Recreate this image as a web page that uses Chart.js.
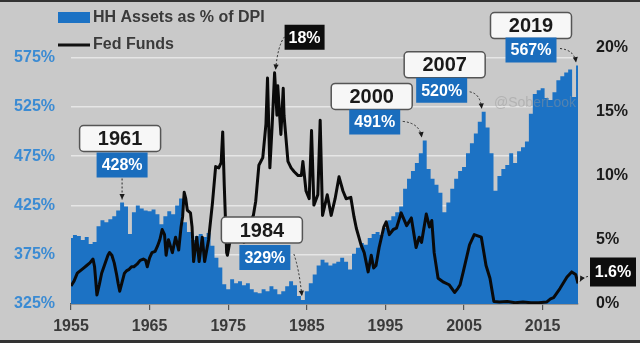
<!DOCTYPE html>
<html>
<head>
<meta charset="utf-8">
<script src="https://cdn.jsdelivr.net/npm/chart.js@4.4.1/dist/chart.umd.min.js"></script>
<style>
  html, body { margin: 0; padding: 0; background: #c9c9c9; }
  canvas { display: block; }
</style>
</head>
<body>
<canvas id="chart" width="640" height="343"></canvas>
<script>
// Household assets as % of disposable personal income, half-yearly from 1955
const hhStart = 1955;
const hhAssets = [
  392, 395, 394, 390, 393, 386, 388, 404, 410, 408,   // 1955-59
  411, 414, 420, 428, 424, 396, 418, 425, 422, 420,   // 1960-64
  419, 421, 416, 406, 414, 419, 416, 425, 432, 408,   // 1965-69
  398, 390, 394, 396, 393, 397, 384, 372, 362, 345,   // 1970-74
  340, 350, 346, 348, 344, 346, 340, 337, 336, 340,   // 1975-79
  338, 343, 340, 335, 338, 343, 348, 344, 333, 329,   // 1980-84
  338, 346, 355, 364, 370, 367, 364, 366, 368, 372,   // 1985-89
  368, 360, 376, 382, 387, 385, 392, 396, 398, 395,   // 1990-94
  402, 410, 414, 418, 424, 442, 452, 460, 468, 478,   // 1995-99
  491, 462, 452, 446, 438, 418, 428, 442, 452, 460,   // 2000-04
  464, 478, 488, 498, 510, 520, 504, 478, 440, 455,   // 2005-09
  462, 466, 478, 468, 480, 484, 490, 518, 538, 542,   // 2010-14
  544, 534, 532, 540, 552, 556, 560, 563, 535, 567    // 2015-19
];
const hhYears = hhAssets.map((_, i) => hhStart + i / 2);

// Effective fed funds rate (%)
const ffYears = [
  1955.0, 1955.4, 1955.8, 1956.2, 1956.6, 1957.0, 1957.4, 1957.8, 1958.0, 1958.3,
  1958.6, 1958.9, 1959.3, 1959.7, 1959.9, 1960.2, 1960.5, 1960.8, 1961.0, 1961.2,
  1961.5, 1961.8, 1962.1, 1962.4, 1962.7, 1963.0, 1963.4, 1963.8, 1964.2, 1964.5,
  1964.7, 1965.0, 1965.3, 1965.7, 1966.0, 1966.3, 1966.6, 1966.9, 1967.1, 1967.4,
  1967.9, 1968.3, 1968.7, 1969.0, 1969.2, 1969.4, 1969.6, 1969.8, 1970.2, 1970.4,
  1970.6, 1971.0, 1971.3, 1971.7, 1972.0, 1972.5, 1973.0, 1973.4, 1973.8, 1974.1,
  1974.3, 1974.5, 1974.8, 1974.9, 1975.2, 1975.6, 1976.0, 1976.5, 1977.0, 1977.4,
  1977.8, 1978.2, 1978.5, 1978.9, 1979.4, 1979.8, 1980.0, 1980.3, 1980.6, 1980.9,
  1981.2, 1981.3, 1981.7, 1982.0, 1982.1, 1982.6, 1983.0, 1983.4, 1983.9, 1984.3,
  1984.5, 1984.9, 1985.3, 1985.6, 1985.9, 1986.4, 1986.7, 1987.0, 1987.6, 1988.1,
  1988.6, 1989.1, 1989.6, 1990.0, 1990.6, 1991.0, 1991.3, 1991.9, 1992.3, 1992.8,
  1993.2, 1993.5, 1993.8, 1994.2, 1994.8, 1995.1, 1995.5, 1996.0, 1996.4, 1997.0,
  1997.7, 1998.3, 1998.9, 1999.3, 1999.6, 2000.2, 2000.6, 2000.9, 2001.2, 2001.7,
  2002.4, 2003.1, 2003.8, 2004.2, 2004.5, 2004.9, 2005.7, 2006.3, 2007.2, 2007.8,
  2008.3, 2008.8, 2009.5, 2010.5, 2011.5, 2012.5, 2013.5, 2014.5, 2015.5, 2016.0,
  2016.4, 2017.2, 2018.1, 2018.7, 2019.2, 2019.5
];
const ffRates = [
  1.4, 1.8, 2.4, 2.6, 2.8, 3.0, 3.2, 3.5, 2.9, 0.7,
  1.5, 2.4, 3.1, 3.8, 4.0, 3.8, 3.2, 2.3, 1.6, 1.0,
  1.7, 2.4, 2.6, 2.7, 2.9, 2.9, 3.1, 3.4, 3.5, 3.4,
  2.9, 3.6, 4.0, 4.1, 4.5, 5.0, 5.8, 5.4, 3.8, 5.0,
  4.0, 5.2, 4.2, 6.0, 6.8, 8.7, 8.2, 7.3, 7.1, 6.0,
  3.3, 5.2, 3.3, 5.2, 3.3, 5.0, 7.9, 10.7, 10.6, 11.0,
  13.4, 9.2, 4.0, 3.8, 4.8, 5.4, 5.0, 5.2, 4.8, 5.6,
  6.4, 6.9, 8.0, 10.8, 11.4, 14.0, 17.6, 10.6, 14.0, 18,
  14.7, 17.0, 13.2, 16.8, 14.7, 11.1, 10.6, 10.3, 10.0, 10.0,
  11.1, 8.8, 8.2, 13.5, 7.7, 8.5, 14.3, 6.9, 8.5, 6.9,
  8.2, 9.9, 8.8, 8.2, 8.3, 6.8, 5.9, 4.6, 4.0, 2.5,
  3.8, 2.8, 3.0, 4.4, 6.0, 6.4, 5.4, 5.8, 5.9, 7.1,
  6.1, 6.7, 4.4, 5.2, 4.8, 7.0, 6.0, 6.5, 4.0, 2.0,
  1.7, 1.5, 0.9, 1.2, 1.5, 2.5, 4.6, 5.4, 5.2, 3.0,
  2.0, 0.2, 0.15, 0.2, 0.1, 0.15, 0.1, 0.1, 0.15, 0.4,
  0.5, 1.2, 2.1, 2.5, 2.3, 1.6
];

const xTicks = [1955, 1965, 1975, 1985, 1995, 2005, 2015];
const leftTicks = [325, 375, 425, 475, 525, 575];
const rightTicks = [0, 5, 10, 15, 20];

const BLUE = '#1c72c4';
const BOX_BLUE = '#1a6dbd';
const FONT = "'Liberation Sans', Arial, sans-serif";

// callouts: year tag + value tag pointing at a data point
const callouts = [
  { series: 'hh', at: 1961.5, year: '1961', tag: [-2, -77], val: [0, -50], from: [0, -24], to: [0, -3], bend: 0 },
  { series: 'hh', at: 1984.5, year: '1984', tag: [-41, -83], val: [-38, -55], from: [-9, -46], to: [-1, -4], bend: 0.3 },
  { series: 'hh', at: 2000.0, year: '2000', tag: [-53, -57], val: [-50, -31], from: [-22, -19], to: [-3, -3], bend: 0.8 },
  { series: 'hh', at: 2007.5, year: '2007', tag: [-39, -60], val: [-42, -34], from: [-14, -20], to: [-2, -3], bend: 0.8 },
  { series: 'hh', at: 2019.5, year: '2019', tag: [-47, -53], val: [-47, -28], from: [-18, -17], to: [-2, -3], bend: 0.8 }
];
// black value tags on the fed funds line
const rateTags = [
  { at: 1980.9, box: [10, -48, 40, 25], from: [10, -36], to: [1, -3] },
  { at: 2019.5, box: [12, -26, 46, 29], from: [10, -7], to: [2, -2] }
];

function arrow(ctx, x1, y1, x2, y2, bend) {
  const cx = x1 + (x2 - x1) * (0.5 + bend / 2);
  const cy = y1 + (y2 - y1) * (0.5 - bend / 2);
  ctx.save();
  ctx.strokeStyle = '#2a2a2a';
  ctx.lineWidth = 1;
  ctx.setLineDash([2, 2]);
  ctx.beginPath();
  ctx.moveTo(x1, y1);
  ctx.quadraticCurveTo(cx, cy, x2, y2);
  ctx.stroke();
  ctx.setLineDash([]);
  const a = Math.atan2(y2 - cy, x2 - cx);
  const s = 6;
  ctx.fillStyle = '#1a1a1a';
  ctx.beginPath();
  ctx.moveTo(x2, y2);
  ctx.lineTo(x2 - s * Math.cos(a - 0.45), y2 - s * Math.sin(a - 0.45));
  ctx.lineTo(x2 - s * Math.cos(a + 0.45), y2 - s * Math.sin(a + 0.45));
  ctx.closePath();
  ctx.fill();
  ctx.restore();
}

function tagBox(ctx, x, y, w, h, fill, stroke, text, color, size) {
  ctx.save();
  ctx.beginPath();
  if (stroke) ctx.roundRect(x, y, w, h, 4); else ctx.rect(x, y, w, h);
  ctx.fillStyle = fill;
  ctx.fill();
  if (stroke) {
    ctx.strokeStyle = stroke;
    ctx.lineWidth = 1.5;
    ctx.stroke();
  }
  ctx.fillStyle = color;
  ctx.font = `bold ${size}px ${FONT}`;
  ctx.textAlign = 'center';
  ctx.textBaseline = 'middle';
  ctx.fillText(text, x + w / 2, y + h / 2 + 1);
  ctx.restore();
}

const decor = {
  id: 'decor',
  beforeDraw(chart) {
    const ctx = chart.ctx;
    ctx.save();
    ctx.fillStyle = '#c9c9c9';
    ctx.fillRect(0, 0, chart.width, chart.height);
    ctx.restore();
  },
  afterDatasetsDraw(chart) {
    const ctx = chart.ctx;
    const xs = chart.scales.x, ys = chart.scales.y, yr = chart.scales.y1;

    // faint source watermark
    ctx.save();
    ctx.fillStyle = 'rgba(150,150,150,0.45)';
    ctx.font = `14px ${FONT}`;
    ctx.textAlign = 'center';
    ctx.textBaseline = 'middle';
    ctx.fillText('@SoberLook', 535, 103);
    ctx.restore();

    callouts.forEach(c => {
      const v = hhAssets[hhYears.indexOf(c.at)];
      const px = xs.getPixelForValue(c.at);
      const py = ys.getPixelForValue(v);
      arrow(ctx, px + c.from[0], py + c.from[1], px + c.to[0], py + c.to[1], c.bend);
      tagBox(ctx, px + c.tag[0] - 40.5, py + c.tag[1], 81, 26, '#f7f7f7', '#555555', c.year, '#1a1a1a', 20);
      tagBox(ctx, px + c.val[0] - 25.5, py + c.val[1], 51, 25, BOX_BLUE, null, v + '%', '#ffffff', 16);
    });

    rateTags.forEach(t => {
      const v = ffRates[ffYears.indexOf(t.at)];
      const px = xs.getPixelForValue(t.at);
      const py = yr.getPixelForValue(v);
      arrow(ctx, px + t.from[0], py + t.from[1], px + t.to[0], py + t.to[1], 0.5);
      tagBox(ctx, px + t.box[0], py + t.box[1], t.box[2], t.box[3], '#0d0d0d', null, v + '%', '#ffffff', 16);
    });
  },
  afterDraw(chart) {
    const ctx = chart.ctx;
    ctx.save();
    // legend
    ctx.fillStyle = BLUE;
    ctx.fillRect(58, 12, 32, 11);
    ctx.strokeStyle = '#111';
    ctx.lineWidth = 3;
    ctx.beginPath();
    ctx.moveTo(58, 45);
    ctx.lineTo(90, 45);
    ctx.stroke();
    ctx.fillStyle = '#3a3a3a';
    ctx.font = `bold 16px ${FONT}`;
    ctx.textBaseline = 'middle';
    ctx.fillText('HH Assets as % of DPI', 93, 18);
    ctx.fillText('Fed Funds', 93, 45);
    // frame bars
    ctx.fillStyle = '#333333';
    ctx.fillRect(0, 0, chart.width, 2);
    ctx.fillRect(0, 340, chart.width, 3);
    ctx.restore();
  }
};

new Chart(document.getElementById('chart'), {
  type: 'line',
  data: {
    datasets: [
      {
        label: 'Fed Funds',
        data: ffYears.map((x, i) => ({ x, y: ffRates[i] })),
        yAxisID: 'y1',
        borderColor: '#0a0a0a',
        borderWidth: 3,
        borderJoinStyle: 'round',
        pointRadius: 0,
        tension: 0,
        order: 0
      },
      {
        label: 'HH Assets as % of DPI',
        data: hhYears.map((x, i) => ({ x, y: hhAssets[i] })),
        yAxisID: 'y',
        borderWidth: 0,
        borderColor: BLUE,
        backgroundColor: BLUE,
        fill: 'start',
        stepped: 'middle',
        pointRadius: 0,
        order: 1
      }
    ]
  },
  options: {
    responsive: false,
    animation: false,
    layout: { padding: { top: 33, left: 0, right: 0, bottom: 0 } },
    plugins: { legend: { display: false }, tooltip: { enabled: false } },
    scales: {
      x: {
        type: 'linear',
        min: 1955,
        max: 2019.5,
        afterBuildTicks: axis => { axis.ticks = xTicks.map(v => ({ value: v })); },
        afterFit: axis => { axis.height = 39; },
        ticks: {
          callback: v => String(v),
          color: '#3a3a3a',
          font: { family: FONT, size: 16, weight: 'bold' },
          padding: 7,
          maxRotation: 0,
          autoSkip: false
        },
        grid: { drawOnChartArea: false, drawTicks: true, tickLength: 6, color: '#555555', lineWidth: 1.2 },
        border: { display: true, color: '#555555', width: 1.5 }
      },
      y: {
        position: 'left',
        min: 325,
        max: 600,
        afterBuildTicks: axis => { axis.ticks = leftTicks.map(v => ({ value: v })); },
        afterFit: axis => { axis.width = 71; },
        ticks: {
          callback: v => v + '%',
          color: '#3b8bd3',
          font: { family: FONT, size: 16, weight: 'bold' },
          padding: 16
        },
        grid: { color: '#e6e6e6', lineWidth: 1.5, drawTicks: false },
        border: { display: false }
      },
      y1: {
        position: 'right',
        min: 0,
        max: 21.1,
        afterBuildTicks: axis => { axis.ticks = rightTicks.map(v => ({ value: v })); },
        afterFit: axis => { axis.width = 62; },
        ticks: {
          callback: v => v + '%',
          color: '#1a1a1a',
          font: { family: FONT, size: 16, weight: 'bold' },
          padding: 18
        },
        grid: { display: false, drawTicks: false },
        border: { display: false }
      }
    }
  },
  plugins: [decor]
});
</script>
</body>
</html>
